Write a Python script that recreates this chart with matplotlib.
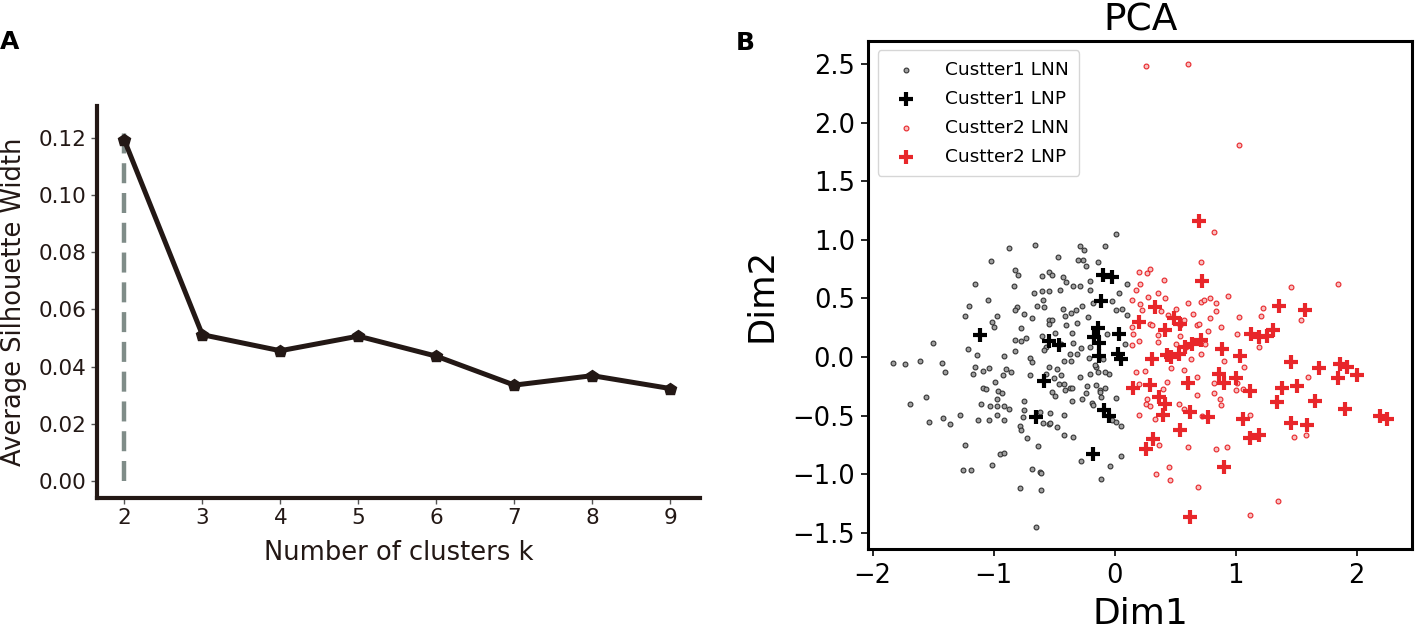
import matplotlib
matplotlib.use("Agg")
import matplotlib.pyplot as plt

plt.rcParams['font.family'] = ['DejaVu Sans']

# ---- panel A: silhouette width vs k ----
k_values = [2, 3, 4, 5, 6, 7, 8, 9]
silhouette = [0.1191, 0.0512, 0.0456, 0.0507, 0.0437, 0.0336, 0.0369, 0.0324]
best_k = 2
best_k_top = 0.1243

# ---- panel B: PCA scatter ----
c1_lnn_x = [-1.83, -1.73, -1.61, -1.43, -1.40, -1.50, -1.56, -1.24, -1.20, -1.15, -1.05, -1.02, -0.87, -0.97,
            -1.01, -1.00, -1.21, -1.14, -1.15, -1.17, -1.09, -1.04, -0.91, -0.90, -0.86, -0.92, -0.83, -0.82,
            -0.80, -0.81, -0.82, -0.75, -0.77, -0.82, -0.77, -0.73, -0.82, -0.66, -0.60, -0.54, -0.52, -0.67,
            -0.60, -0.54, -0.59, -0.64, -0.58, -0.68, -0.54, -0.52, -0.54, -0.49, -0.60, -0.57, -0.58, -0.43,
            -0.40, -0.45, -0.34, -0.29, -0.20, -0.26, -0.30, -0.29, -0.25, -0.24, -0.47, -0.43, -0.41, -0.36,
            -0.32, -0.27, -0.22, -0.31, -0.40, -0.35, -0.34, -0.44, -0.37, -0.31, -0.42, -0.36, -0.54, -0.48,
            -0.44, -0.70, -0.68, -0.70, -0.57, -0.46, -0.50, -0.42, -0.37, -0.29, -0.23, -0.20, -0.15, -0.14,
            -0.05, -0.15, -0.12, -0.08, -0.20, -0.18, -0.14, -0.08, 0.01, 0.04, -0.02, 0.01, 0.06, 0.10,
            0.10, -0.06, 0.09, -0.21, -0.16, -0.10, -0.08, -0.20, -0.28, 0.01, -0.97,
            -0.99, -1.09, -1.06, -0.96, -0.93, -0.52, -0.49, -0.41, -0.35, -0.27, -0.24, -0.12, -0.11,
            -1.69, -1.53, -1.42, -1.36, -1.28, -1.24, -1.25, -1.19, -1.01, -0.95, -0.91, -1.13, -1.04, -1.10,
            -1.03, -0.97, -0.97, -0.91, -0.87, -0.91, -0.75, -0.75, -0.76, -0.78, -0.77, -0.72, -0.63, -0.68,
            -0.62, -0.61, -0.78, -0.61, -0.65, -0.62, -0.59, -0.54, -0.53, -0.53, -0.48, -0.42, -0.42, -0.34,
            -0.35, -0.19, -0.18, -0.02, 0.01, 0.05, -0.28, -0.04, -0.11, 0.05]
c1_lnn_y = [-0.05, -0.06, -0.03, -0.05, -0.13, 0.12, -0.34, 0.35, 0.44, 0.62, 0.49, 0.82, 0.93, 0.35,
            0.30, 0.26, 0.07, 0.02, -0.08, -0.14, -0.12, -0.09, 0.01, -0.10, -0.13, -0.15, 0.61, 0.74,
            0.70, 0.43, 0.40, 0.37, 0.25, 0.15, 0.14, 0.16, 0.05, 0.96, 0.69, 0.73, 0.70, 0.55,
            0.56, 0.56, 0.49, 0.44, 0.43, 0.33, 0.32, 0.32, 0.28, 0.21, 0.18, 0.09, 0.06, 0.68,
            0.64, 0.57, 0.61, 0.61, 0.57, 0.83, 0.83, 0.95, 0.91, 0.78, 0.85, 0.41, 0.35, 0.38,
            0.40, 0.44, 0.34, 0.29, 0.27, 0.21, 0.12, 0.11, 0.03, 0.03, -0.03, -0.03, -0.08, -0.10,
            -0.15, -0.01, -0.04, -0.15, -0.14, -0.23, -0.18, -0.23, -0.26, -0.17, -0.25, -0.14, -0.08, -0.13,
            -0.14, -0.24, -0.28, -0.26, 0.65, 0.46, 0.81, 0.95, 1.05, 0.55, 0.48, 0.40, 0.41, 0.62,
            0.36, 0.20, 0.11, -0.01, -0.07, -0.02, -0.13, 0.09, 0.08, -0.35, -0.36,
            -0.21, -0.26, -0.27, -0.29, -0.31, -0.30, -0.33, -0.28, -0.26, -0.36, -0.31, -0.30, -0.34,
            -0.40, -0.55, -0.52, -0.57, -0.49, -0.75, -0.96, -0.96, -0.92, -0.83, -0.82, -0.54, -0.54, -0.40,
            -0.42, -0.42, -0.49, -0.42, -0.44, -0.54, -0.37, -0.45, -0.51, -0.59, -0.62, -0.69, -0.76, -0.95,
            -0.98, -0.99, -1.12, -1.13, -1.45, -0.47, -0.56, -0.57, -0.56, -0.48, -0.60, -0.49, -0.66, -0.68,
            -0.37, -0.39, -0.41, -0.54, -0.55, -0.59, -0.89, -0.93, -1.04, -0.84]

c1_lnp_x = [-1.11, -0.54, -0.46, -0.58, -0.10, -0.02, -0.11, -0.14, -0.17, -0.13, 0.04, -0.13, 0.03, 0.05,
            -0.65, -0.09, -0.05, -0.18]
c1_lnp_y = [0.19, 0.14, 0.10, -0.20, 0.70, 0.68, 0.48, 0.25, 0.17, 0.12, 0.20, 0.01, 0.03, -0.02,
            -0.51, -0.45, -0.50, -0.83]

c2_lnn_x = [0.20, 0.29, 0.27, 0.21, 0.18, 0.28, 0.14, 0.21, 0.36, 0.23, 0.29, 0.31, 0.15, 0.14, 0.20,
            0.18, 0.25, 0.20,
            0.82, 0.71, 0.41, 0.42, 0.61, 0.71, 0.74, 0.79, 0.84, 0.94, 0.51, 0.38, 0.65, 0.84, 0.79, 0.44,
            1.03, 1.23, 1.21, 1.46, 1.85, 1.54, 0.14, 0.57, 0.54, 0.68, 0.70, 0.88, 0.77, 0.54, 0.36, 0.36,
            0.51, 0.59, 0.71, 0.75, 1.01, 1.19, 0.63, 0.90, 1.07, 0.47, 0.57, 0.68, 0.43, 1.60, 0.40, 0.82,
            0.68, 0.82, 0.87, 0.88, 1.00, 1.01, 1.06, 0.27, 0.26, 0.29, 0.20, 0.33, 0.53, 0.57, 0.72, 1.12,
            1.48, 1.58, 0.37, 0.61, 0.84, 0.93, 0.45, 0.34, 0.46, 0.69, 1.35, 1.12,
            0.26, 0.61, 1.03]
c2_lnn_y = [0.73, 0.75, 0.72, 0.62, 0.57, 0.51, 0.49, 0.45, 0.55, 0.40, 0.28, 0.27, 0.20, 0.10, 0.14,
            -0.13, -0.12, -0.23,
            1.07, 0.81, 0.66, 0.50, 0.46, 0.47, 0.49, 0.50, 0.46, 0.52, 0.41, 0.39, 0.37, 0.39, 0.33, 0.36,
            0.34, 0.42, 0.35, 0.60, 0.62, 0.32, 0.26, 0.32, 0.27, 0.27, 0.28, 0.26, 0.22, 0.18, 0.19, 0.13,
            0.11, 0.09, 0.03, 0.11, 0.20, 0.09, -0.02, -0.03, -0.08, -0.09, -0.11, -0.17, -0.21, -0.17, -0.27, -0.22,
            -0.32, -0.31, -0.36, -0.41, -0.28, -0.22, -0.27, -0.36, -0.40, -0.42, -0.49, -0.53, -0.40, -0.44, -0.50, -0.49,
            -0.68, -0.66, -0.75, -0.77, -0.78, -0.77, -0.94, -1.00, -1.05, -1.11, -1.23, -1.35,
            2.48, 2.50, 1.81]

c2_lnp_x = [0.70, 0.72, 0.33, 0.20, 0.49, 0.54, 0.42, 1.36, 1.57, 1.13, 1.19, 1.26, 1.31, 0.71, 0.64,
            0.58, 0.53, 0.47, 0.43, 0.31, 0.89, 1.04, 1.46, 1.69, 1.86, 1.92, 2.00, 1.85, 0.86, 1.00,
            0.61, 0.29, 0.15, 0.90, 0.37, 0.42, 0.40, 0.62, 0.77, 1.12, 1.38, 1.51, 1.34, 1.66, 1.90,
            2.19, 2.25, 1.06, 1.46, 1.59, 1.12, 1.19, 0.54, 0.32, 0.26, 0.90, 0.62]
c2_lnp_y = [1.16, 0.65, 0.43, 0.30, 0.33, 0.28, 0.23, 0.44, 0.40, 0.20, 0.17, 0.18, 0.23, 0.15, 0.11,
            0.09, 0.03, 0.00, 0.02, -0.02, 0.07, 0.01, -0.04, -0.09, -0.06, -0.08, -0.15, -0.18, -0.14, -0.18,
            -0.22, -0.24, -0.26, -0.22, -0.34, -0.40, -0.49, -0.47, -0.51, -0.29, -0.26, -0.25, -0.38, -0.37, -0.44,
            -0.50, -0.53, -0.53, -0.56, -0.58, -0.69, -0.66, -0.62, -0.70, -0.78, -0.94, -1.36]

dark = '#231815'
red = '#e8262a'

fig = plt.figure(figsize=(14.17, 6.30), dpi=100)

# ---------------- A ----------------
axA = fig.add_axes([0.0682, 0.2095, 0.4258, 0.6222])
axA.plot([best_k, best_k], [0, best_k_top], color='#7f8c88', lw=3.2, ls=(0, (4.5, 2.2)), zorder=1)
axA.plot(k_values, silhouette, color=dark, lw=3.6, marker='p', ms=9, zorder=2)
axA.set_xlim(1.645, 9.38)
axA.set_ylim(-0.0058, 0.131)
axA.set_xticks(k_values)
axA.set_yticks([0.00, 0.02, 0.04, 0.06, 0.08, 0.10, 0.12])
axA.set_yticklabels(['0.00', '0.02', '0.04', '0.06', '0.08', '0.10', '0.12'])
for s in ['top', 'right']:
    axA.spines[s].set_visible(False)
for s in ['left', 'bottom']:
    axA.spines[s].set_linewidth(3.0)
    axA.spines[s].set_color(dark)
axA.tick_params(labelsize=15.5, length=4, width=1, colors='#555555', labelcolor=dark)
axA.set_xlabel('Number of clusters k', fontsize=18.5, color=dark, labelpad=8)
axA.set_ylabel('Average Silhouette Width', fontsize=18.5, color=dark, labelpad=8)
fig.text(0.0, 0.933, 'A', fontsize=18, fontweight='bold', va='center', ha='left')

# ---------------- B ----------------
axB = fig.add_axes([0.6129, 0.1286, 0.3836, 0.806])
axB.scatter(c1_lnn_x, c1_lnn_y, s=12, facecolor='#a0a0a0', edgecolor='#333333', linewidths=0.8,
            label='Custter1 LNN', zorder=2)
axB.scatter(c1_lnp_x, c1_lnp_y, s=90, marker='+', color='black', linewidths=3.0,
            label='Custter1 LNP', zorder=3)
axB.scatter(c2_lnn_x, c2_lnn_y, s=12, facecolor='#f7c0c0', edgecolor=red, linewidths=0.8,
            label='Custter2 LNN', zorder=2)
axB.scatter(c2_lnp_x, c2_lnp_y, s=90, marker='+', color=red, linewidths=3.0,
            label='Custter2 LNP', zorder=3)
axB.set_xlim(-2.034, 2.458)
axB.set_ylim(-1.636, 2.694)
axB.set_xticks([-2, -1, 0, 1, 2])
axB.set_yticks([-1.5, -1.0, -0.5, 0.0, 0.5, 1.0, 1.5, 2.0, 2.5])
for s in axB.spines.values():
    s.set_linewidth(2.2)
axB.tick_params(labelsize=18.5, length=4.8, width=1.2, pad=5)
axB.set_xlabel('Dim1', fontsize=26, labelpad=6)
axB.set_ylabel('Dim2', fontsize=25.5, labelpad=10)
axB.set_title('PCA', fontsize=27, pad=8)
axB.legend(loc='upper left', fontsize=13.3, frameon=True, borderpad=0.55, handletextpad=1.1,
           labelspacing=0.6, framealpha=0.8, edgecolor='#cccccc', fancybox=True)
fig.text(0.519, 0.932, 'B', fontsize=18, fontweight='bold', va='center', ha='left')

fig.savefig('out.png', dpi=100)
